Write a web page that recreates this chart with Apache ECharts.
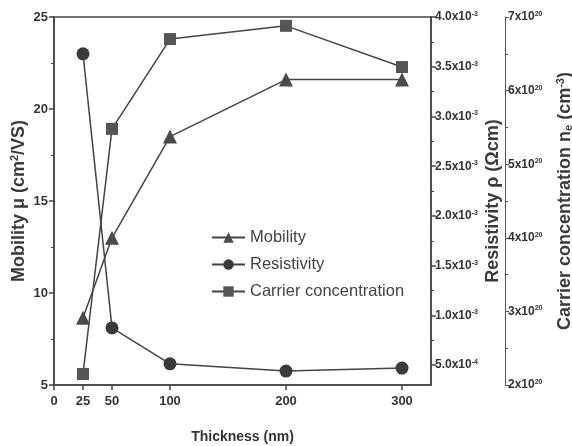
<!DOCTYPE html>
<html><head><meta charset="utf-8">
<script src="https://cdn.jsdelivr.net/npm/echarts@6/dist/echarts.min.js"></script>
<style>html,body{margin:0;padding:0;background:#fff}#c{width:572px;height:446px}</style>
</head><body><div id="c"></div>
<script>
var thickness = [25, 50, 100, 200, 300];
var mobility = [8.65, 13.0, 18.5, 21.6, 21.6];
var resistivity = [0.00363, 0.000874, 0.000513, 0.00044, 0.00047];
var carrier = [2.15e20, 5.48e20, 6.70e20, 6.88e20, 6.32e20];
var xTicks = [0, 25, 50, 100, 200, 300];
var resTicks = [0.0005, 0.001, 0.0015, 0.002, 0.0025, 0.003, 0.0035, 0.004];
var resTickLabels = ['5.0x10|-4', '1.0x10|-3', '1.5x10|-3', '2.0x10|-3', '2.5x10|-3', '3.0x10|-3', '3.5x10|-3', '4.0x10|-3'];
var resMinorTicks = [0.00075, 0.00125, 0.00175, 0.00225, 0.00275, 0.00325, 0.00375];

var FONT = '"Liberation Sans Narrow","Liberation Sans",Arial,sans-serif';
var NAMEFONT = '"Liberation Sans",Arial,sans-serif';
var INK = '#333';
var LINE = '#444';

function pairs(ys) { return thickness.map(function (x, i) { return [x, ys[i]]; }); }
var richTick = {
  b: { fontFamily: FONT, fontSize: 12, fontWeight: 'bold', color: INK },
  s: { fontFamily: FONT, fontSize: 7, fontWeight: 'bold', color: INK, verticalAlign: 'top', padding: [0, 0, 6, 0] }
};
var richName = {
  n: { fontFamily: NAMEFONT, fontSize: 18, fontWeight: 'bold', color: '#3a3a3a' },
  sup: { fontFamily: NAMEFONT, fontSize: 11, fontWeight: 'bold', color: '#3a3a3a', padding: [0, 0, 9, 0] },
  sub: { fontFamily: NAMEFONT, fontSize: 11, fontWeight: 'bold', color: '#3a3a3a', padding: [7, 0, 0, 0] }
};

var chart = echarts.init(document.getElementById('c'));
chart.setOption({
  animation: false,
  backgroundColor: '#fff',
  grid: { left: 54, right: 141, top: 17, bottom: 61, outerBoundsMode: 'none', containLabel: false,
          show: true, borderColor: LINE, borderWidth: 1.5, backgroundColor: 'transparent' },
  legend: {
    orient: 'vertical', left: 206, top: 224, itemWidth: 33, itemHeight: 13, itemGap: 10,
    textStyle: { fontFamily: NAMEFONT, fontSize: 16.5, color: '#444' },
    data: ['Mobility', 'Resistivity', 'Carrier concentration']
  },
  xAxis: {
    type: 'value', min: 0, max: 325,
    name: 'Thickness (nm)', nameLocation: 'middle', nameGap: 45, nameMoveOverlap: false,
    nameTextStyle: { fontFamily: NAMEFONT, fontSize: 14, fontWeight: 'bold', color: INK },
    axisLine: { lineStyle: { color: LINE, width: 1.5 } },
    axisTick: { customValues: xTicks, length: 5, lineStyle: { color: LINE, width: 1.5 } },
    axisLabel: { customValues: xTicks, margin: 10, fontFamily: FONT, fontSize: 13, fontWeight: 'bold', color: INK },
    splitLine: { show: false }
  },
  yAxis: [
    {
      type: 'value', min: 5, max: 25, interval: 5, position: 'left',
      name: '{n|Mobility μ (cm}{sup|2}{n|/VS)}', nameLocation: 'middle', nameGap: 25, nameRotate: 90, nameMoveOverlap: false,
      nameTextStyle: { rich: richName },
      axisLine: { show: true, lineStyle: { color: LINE, width: 1.5 } },
      axisTick: { show: true, length: 5, lineStyle: { color: LINE, width: 1.5 } },
      minorTick: { show: true, splitNumber: 2, length: 3, lineStyle: { color: LINE } },
      axisLabel: { margin: 6, fontFamily: FONT, fontSize: 13, fontWeight: 'bold', color: INK },
      splitLine: { show: false }
    },
    {
      type: 'value', min: 0.0003, max: 0.004, position: 'right',
      name: '{n|Resistivity ρ (Ωcm)}', nameLocation: 'middle', nameGap: 53, nameRotate: 90, nameMoveOverlap: false,
      nameTextStyle: { rich: richName },
      axisLine: { show: true, lineStyle: { color: LINE, width: 1.5 } },
      axisTick: { show: true, customValues: resTicks, length: 5, lineStyle: { color: LINE, width: 1.5 } },
      axisLabel: {
        customValues: resTicks, margin: 4,
        formatter: function (v) {
          var i = resTicks.findIndex(function (t) { return Math.abs(t - v) < 1e-9; });
          var p = (i >= 0 ? resTickLabels[i] : '').split('|');
          return '{b|' + p[0] + '}{s|' + p[1] + '}';
        },
        rich: richTick
      },
      splitLine: { show: false }
    },
    {
      type: 'value', min: 0.0003, max: 0.004, position: 'right',
      axisLine: { show: false },
      axisTick: { show: true, customValues: resMinorTicks, length: 3, lineStyle: { color: LINE } },
      axisLabel: { show: false },
      splitLine: { show: false }
    },
    {
      type: 'value', min: 2e20, max: 7e20, interval: 1e20, position: 'right', offset: 74,
      name: '{n|Carrier concentration n}{sub|e}{n| (cm}{sup|-3}{n|)}', nameLocation: 'middle', nameGap: 50, nameRotate: 90, nameMoveOverlap: false,
      nameTextStyle: { rich: richName },
      axisLine: { show: true, lineStyle: { color: '#555', width: 1 } },
      axisTick: { show: true, length: 4, lineStyle: { color: '#555' } },
      minorTick: { show: true, splitNumber: 2, length: 3, lineStyle: { color: '#555' } },
      axisLabel: {
        margin: 3,
        formatter: function (v) { return '{b|' + Math.round(v / 1e20) + 'x10}{s|20}'; },
        rich: richTick
      },
      splitLine: { show: false }
    }
  ],
  series: [
    {
      name: 'Mobility', type: 'line', yAxisIndex: 0, data: pairs(mobility),
      symbol: 'triangle', symbolSize: 14,
      lineStyle: { color: LINE, width: 1.5 }, itemStyle: { color: '#4a4a4a' }
    },
    {
      name: 'Resistivity', type: 'line', yAxisIndex: 1, data: pairs(resistivity),
      symbol: 'circle', symbolSize: 13,
      lineStyle: { color: LINE, width: 1.5 }, itemStyle: { color: '#3a3a3a' }
    },
    {
      name: 'Carrier concentration', type: 'line', yAxisIndex: 3, data: pairs(carrier),
      symbol: 'rect', symbolSize: 12,
      lineStyle: { color: LINE, width: 1.5 }, itemStyle: { color: '#555' }
    }
  ]
});
</script></body></html>
